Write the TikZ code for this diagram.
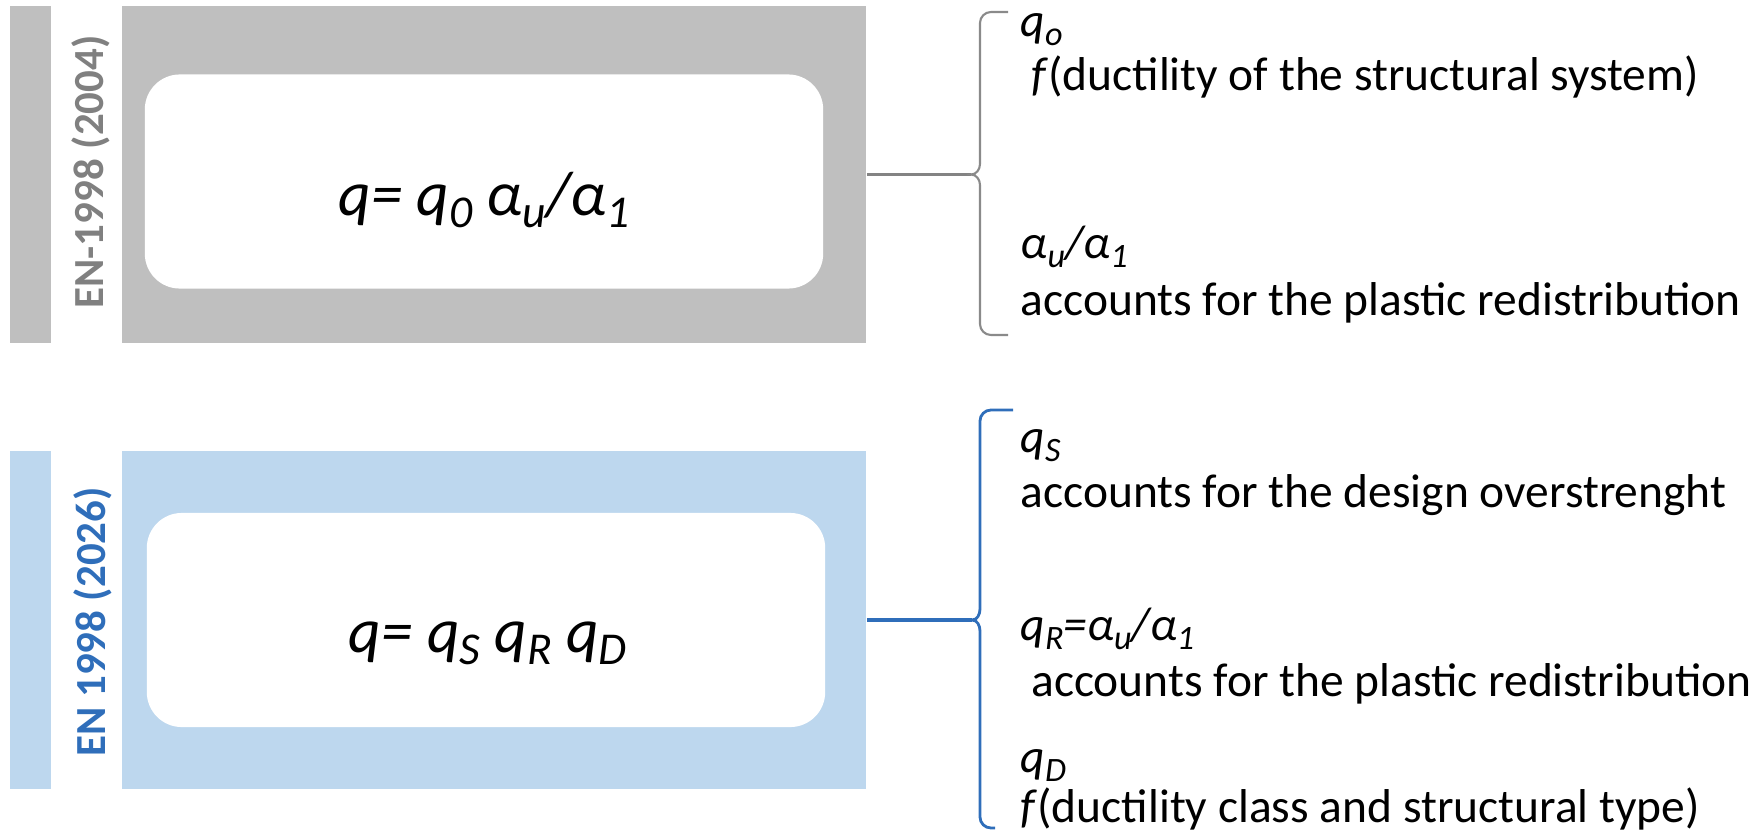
\documentclass[tikz,border=0pt]{standalone}
\usepackage{fontspec}
\setmainfont{Carlito}
\usepackage{graphicx}
\usepackage{tikz}
\usetikzlibrary{positioning}
\definecolor{stripgrey}{HTML}{BFBFBF}
\definecolor{labelgrey}{HTML}{808080}
\definecolor{linegrey}{HTML}{8A8A8A}
\definecolor{paleblue}{HTML}{BDD7EE}
\definecolor{deepblue}{HTML}{2F6EBA}
\newcommand{\lowidx}[1]{\raisebox{-0.4ex}{\scalebox{0.72}{#1}}}

\begin{document}
\begin{tikzpicture}[
  x=0.01cm, y=0.01cm,
  panelBox/.style={minimum width=7.44cm, minimum height=3.37cm, inner sep=0pt},
  stripBox/.style={minimum width=0.41cm, minimum height=3.37cm, inner sep=0pt},
  innerBox/.style={fill=white, rounded corners=0.35cm, minimum width=6.78cm, minimum height=2.14cm, inner sep=0pt},
  eqText/.style={font=\fontsize{18}{22}\selectfont\itshape, inner sep=0pt},
  noteText/.style={font=\fontsize{13.5}{16}\selectfont, anchor=base west, inner sep=0pt},
  yearLabel/.style={font=\fontsize{12.2}{14}\selectfont\bfseries, rotate=90, inner sep=0pt},
  braceLine/.style={line width=0.6pt},
  linkLine/.style={line width=1.1pt}
]
\useasboundingbox (0,0) rectangle (1762,-830);

% EN-1998 (2004)
\node[panelBox, fill=stripgrey] (oldPanel) at (494,-174.5) {};
\node[stripBox, fill=stripgrey, left=0.69cm of oldPanel] (oldStrip) {};
\node[yearLabel, text=labelgrey] (oldLabel) at (91,-172) {EN-1998 (2004)};
\node[innerBox] (oldInner) at (484,-181.5) {};
\node[eqText] (oldEq) at (484,-200) {q= q\lowidx{0} α\lowidx{u}/α\lowidx{1}};

% EN 1998 (2026)
\node[panelBox, fill=paleblue] (newPanel) at (494,-620) {};
\node[stripBox, fill=paleblue, left=0.69cm of newPanel] (newStrip) {};
\node[yearLabel, text=deepblue] (newLabel) at (93,-622) {EN 1998 (2026)};
\node[innerBox] (newInner) at (486,-620) {};
\node[eqText] (newEq) at (488,-643) {q= q\lowidx{S} q\lowidx{R} q\lowidx{D}};

% braces
\coordinate (oldTip) at (971,-174.5);
\coordinate (newTip) at (972,-620);
\draw[linkLine, draw=linegrey!95!black] (oldPanel.east) -- (oldTip);
\draw[braceLine, draw=linegrey] (1008,-12) -- (991,-12) to[out=180,in=90] (980,-23)
  -- (980,-164) to[out=-90,in=0] (oldTip) to[out=0,in=90] (980,-185)
  -- (980,-324) to[out=-90,in=180] (991,-335) -- (1008,-335);
\draw[linkLine, line width=1.3pt, draw=deepblue] (newPanel.east) -- (newTip);
\draw[braceLine, line width=0.8pt, draw=deepblue] (1013,-410) -- (991,-410) to[out=180,in=90] (980,-421)
  -- (980,-609) to[out=-90,in=0] (newTip) to[out=0,in=90] (980,-631)
  -- (980,-817) to[out=-90,in=180] (991,-828) -- (995,-828);

% explanations
\node[noteText] (qoName) at (1020,-36) {\textit{q\lowidx{o}}};
\node[noteText] (qoDesc) at (1020,-90) {\ \textit{f}(ductility of the structural system)};
\node[noteText] (auName) at (1020,-258) {\textit{α\lowidx{u}/α\lowidx{1}}};
\node[noteText] (auDesc) at (1020,-315) {accounts for the plastic redistribution};

\node[noteText] (qsName) at (1020,-452) {\textit{q\lowidx{S}}};
\node[noteText] (qsDesc) at (1020,-507) {accounts for the design overstrenght};
\node[noteText] (qrName) at (1020,-640) {\textit{q\lowidx{R}=α\lowidx{u}/α\lowidx{1}}};
\node[noteText] (qrDesc) at (1020,-696) {\ accounts for the plastic redistribution};
\node[noteText] (qdName) at (1020,-772) {\textit{q\lowidx{D}}};
\node[noteText] (qdDesc) at (1020,-822) {\textit{f}(ductility class and structural type)};
\end{tikzpicture}
\end{document}
